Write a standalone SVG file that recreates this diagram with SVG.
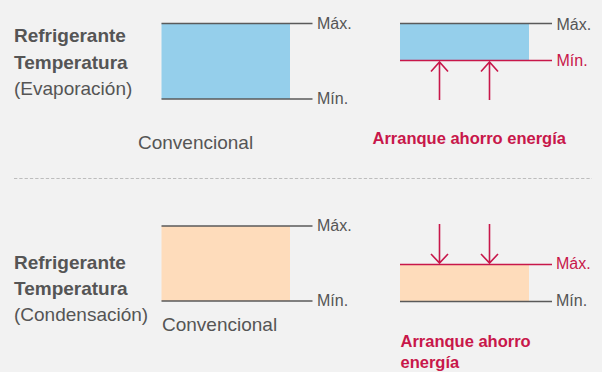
<svg xmlns="http://www.w3.org/2000/svg" width="602" height="372" viewBox="0 0 602 372">
  <style>
    .lbl { font-family: "Liberation Sans", Arial, sans-serif; font-size: 19px; fill: #555555; }
    .b { font-weight: bold; }
    .mm { font-family: "Liberation Sans", Arial, sans-serif; font-size: 16px; fill: #555555; }
    .red { fill: #c8174a; }
    .title { font-family: "Liberation Sans", Arial, sans-serif; font-size: 16.5px; font-weight: bold; fill: #c8174a; }
    .gl { stroke: #5a5a5a; stroke-width: 1.5; fill: none; }
    .rl { stroke: #c8174a; stroke-width: 1.5; fill: none; }
    .arrow { stroke: #c8174a; stroke-width: 1.6; fill: none; }
    .blue { fill: #95cfeb; }
    .orange { fill: #fedcbb; }
  </style>
  <rect x="0" y="0" width="602" height="372" fill="#f2f2f2"/>

  <g id="label-evap">
    <text class="lbl b" x="14" y="42">Refrigerante</text>
    <text class="lbl b" x="14" y="68.5">Temperatura</text>
    <text class="lbl" x="14" y="95">(Evaporación)</text>
  </g>

  <g id="evap-conventional">
    <rect class="blue" x="161.5" y="23.5" width="128.5" height="75.5"/>
    <line class="gl" x1="161.5" y1="23.5" x2="312.5" y2="23.5"/>
    <line class="gl" x1="161.5" y1="99" x2="312.5" y2="99"/>
    <text class="mm" x="317" y="28.5">Máx.</text>
    <text class="mm" x="317" y="104">Mín.</text>
    <text class="lbl" x="138" y="149">Convencional</text>
  </g>

  <g id="evap-saving">
    <rect class="blue" x="400" y="23.5" width="129" height="37"/>
    <line class="gl" x1="400" y1="23.5" x2="552" y2="23.5"/>
    <line class="rl" x1="400" y1="60.5" x2="552" y2="60.5"/>
    <text class="mm" x="556.5" y="29.5">Máx.</text>
    <text class="mm red" x="556.5" y="65.5">Mín.</text>
    <text class="title" x="372.5" y="143.5">Arranque ahorro energía</text>
  </g>

  <line id="divider" x1="14" y1="178.5" x2="592" y2="178.5" stroke="#bdbdbd" stroke-width="1" stroke-dasharray="3.3 2"/>

  <g id="label-cond">
    <text class="lbl b" x="14" y="268.5">Refrigerante</text>
    <text class="lbl b" x="14" y="295">Temperatura</text>
    <text class="lbl" x="14" y="321">(Condensación)</text>
  </g>

  <g id="cond-conventional">
    <rect class="orange" x="161.5" y="226" width="128.5" height="75"/>
    <line class="gl" x1="161.5" y1="226" x2="312.5" y2="226"/>
    <line class="gl" x1="161.5" y1="301" x2="312.5" y2="301"/>
    <text class="mm" x="317" y="231">Máx.</text>
    <text class="mm" x="317" y="306">Mín.</text>
    <text class="lbl" x="162" y="331">Convencional</text>
  </g>

  <g id="cond-saving">
    <rect class="orange" x="400" y="264.5" width="129" height="37"/>
    <line class="rl" x1="400" y1="264.5" x2="552" y2="264.5"/>
    <line class="gl" x1="400" y1="301.5" x2="552" y2="301.5"/>
    <text class="mm red" x="556" y="269">Máx.</text>
    <text class="mm" x="556" y="306">Mín.</text>
    <text class="title" x="400.5" y="346.5">Arranque ahorro</text>
    <text class="title" x="400.5" y="368">energía</text>
  </g>

  <g id="connectors">
    <path class="arrow" d="M439.5 100 V62 M431 71.5 L439.5 62 L448 71.5"/>
    <path class="arrow" d="M489.5 100 V62 M481 71.5 L489.5 62 L498 71.5"/>
    <path class="arrow" d="M439.5 224 V263 M431 254 L439.5 263 L448 254"/>
    <path class="arrow" d="M489.5 224 V263 M481 254 L489.5 263 L498 254"/>
  </g>
</svg>
